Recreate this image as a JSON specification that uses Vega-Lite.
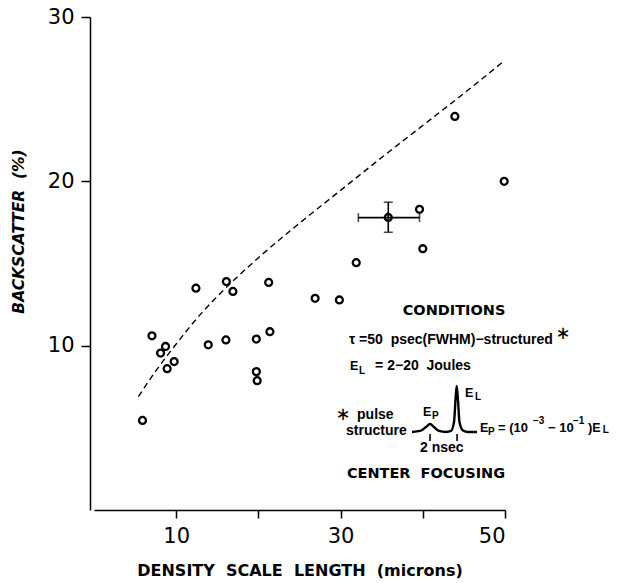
{
  "$schema": "https://vega.github.io/schema/vega-lite/v6.json",
  "autosize": {"type": "none"},
  "padding": {"left": 94, "top": 17, "right": 113, "bottom": 73},
  "width": 411,
  "height": 493,
  "background": "white",
  "config": {"view": {"stroke": null}, "font": "Liberation Sans"},
  "datasets": {
    "points": [
      {"x": 5.9, "y": 5.45}, {"x": 7.05, "y": 10.6}, {"x": 8.1, "y": 9.55}, {"x": 8.7, "y": 9.95},
      {"x": 8.9, "y": 8.6}, {"x": 9.75, "y": 9.03}, {"x": 12.4, "y": 13.5}, {"x": 13.9, "y": 10.05},
      {"x": 16.05, "y": 10.35}, {"x": 16.1, "y": 13.9}, {"x": 16.9, "y": 13.3}, {"x": 19.75, "y": 10.4},
      {"x": 19.75, "y": 8.42}, {"x": 19.85, "y": 7.87}, {"x": 21.4, "y": 10.85}, {"x": 21.25, "y": 13.85},
      {"x": 26.9, "y": 12.88}, {"x": 29.85, "y": 12.78}, {"x": 31.9, "y": 15.05}, {"x": 35.8, "y": 17.8},
      {"x": 39.6, "y": 18.3}, {"x": 40.0, "y": 15.9}, {"x": 43.9, "y": 23.95}, {"x": 49.9, "y": 20.0}
    ],
    "curve": [
      {"x": 5.4, "y": 6.9}, {"x": 7.5, "y": 8.45}, {"x": 10, "y": 10.1}, {"x": 12.5, "y": 11.65},
      {"x": 15, "y": 13.0}, {"x": 20, "y": 15.35}, {"x": 25, "y": 17.45}, {"x": 30, "y": 19.45},
      {"x": 35, "y": 21.45}, {"x": 40, "y": 23.4}, {"x": 45, "y": 25.35}, {"x": 49.7, "y": 27.25}
    ],
    "segments": [
      {"x": 32.16, "x2": 39.6, "y": 17.79, "y2": 17.79},
      {"x": 35.8, "x2": 35.8, "y": 16.9, "y2": 18.73},
      {"x": 40.88, "x2": 40.88, "y": 4.63, "y2": 4.2},
      {"x": 44.17, "x2": 44.17, "y": 4.63, "y2": 4.2}
    ],
    "vcaps": [{"x": 32.16, "y": 17.79}, {"x": 39.6, "y": 17.79}],
    "hcaps": [{"x": 35.8, "y": 16.9}, {"x": 35.8, "y": 18.73}],
    "pulse": [
      {"x": 38.69, "y": 4.75}, {"x": 39.66, "y": 4.81}, {"x": 40.39, "y": 5.05}, {"x": 40.88, "y": 5.23},
      {"x": 41.36, "y": 5.05}, {"x": 41.97, "y": 4.81}, {"x": 42.82, "y": 4.75}, {"x": 43.43, "y": 4.81},
      {"x": 43.8, "y": 5.36}, {"x": 43.98, "y": 6.7}, {"x": 44.12, "y": 7.55}, {"x": 44.28, "y": 6.7},
      {"x": 44.46, "y": 5.36}, {"x": 44.89, "y": 4.84}, {"x": 45.5, "y": 4.75}, {"x": 46.59, "y": 4.75}
    ],
    "labels": [
      {"label": "CONDITIONS", "x": 43.8, "y": 12.11, "role": "head"},
      {"label": "CENTER\u00a0\u00a0FOCUSING", "x": 40.39, "y": 2.22, "role": "head"},
      {"label": "τ =50\u00a0\u00a0psec(FWHM)−structured", "x": 31.02, "y": 10.35, "role": "body"},
      {"label": "∗", "x": 57.06, "y": 10.71, "role": "star"},
      {"label": "∗", "x": 30.29, "y": 5.81, "role": "star"},
      {"label": "pulse", "x": 32.0, "y": 5.78, "role": "body"},
      {"label": "structure", "x": 30.66, "y": 4.81, "role": "body"},
      {"label": "2 nsec", "x": 39.66, "y": 3.78, "role": "body"},
      {"label": "E", "x": 31.14, "y": 8.76, "role": "big"},
      {"label": "L", "x": 32.24, "y": 8.45, "role": "sub"},
      {"label": "= 2−20\u00a0 Joules", "x": 34.2, "y": 8.76, "role": "body"},
      {"label": "E", "x": 40.02, "y": 5.96, "role": "big"},
      {"label": "P", "x": 41.12, "y": 5.72, "role": "sub"},
      {"label": "E", "x": 45.13, "y": 7.15, "role": "big"},
      {"label": "L", "x": 46.35, "y": 6.88, "role": "sub"},
      {"label": "E", "x": 46.96, "y": 5.02, "role": "big"},
      {"label": "P", "x": 47.93, "y": 4.75, "role": "sub"},
      {"label": "= (10", "x": 49.15, "y": 4.99, "role": "small"},
      {"label": "−3", "x": 53.4, "y": 5.4, "role": "sup"},
      {"label": "− 10", "x": 55.23, "y": 4.99, "role": "small"},
      {"label": "−1", "x": 58.27, "y": 5.4, "role": "sup"},
      {"label": ")", "x": 60.1, "y": 4.99, "role": "small"},
      {"label": "E", "x": 60.6, "y": 5.02, "role": "big"},
      {"label": "L", "x": 61.9, "y": 4.87, "role": "sub"}
    ]
  },
  "encoding": {
    "x": {
      "field": "x", "type": "quantitative",
      "scale": {"domain": [0, 50], "nice": false, "zero": false},
      "axis": {
        "values": [10, 20, 30, 40, 50],
        "labelExpr": "datum.value == 20 || datum.value == 40 ? '' : datum.label",
        "title": "DENSITY\u00a0\u00a0SCALE\u00a0\u00a0LENGTH\u00a0\u00a0(microns)",
        "grid": false, "tickSize": 8, "labelPadding": 7,
        "labelFontSize": 21, "labelFont": "DejaVu Sans", "labelColor": "black",
        "titleFont": "DejaVu Sans", "titleFontWeight": "bold", "titleFontSize": 16, "titleColor": "black",
        "titleY": 60, "titleBaseline": "middle",
        "domainColor": "black", "tickColor": "black", "domainWidth": 1.5, "tickWidth": 1.5
      }
    },
    "y": {
      "field": "y", "type": "quantitative",
      "scale": {"domain": [0, 30], "nice": false, "zero": false},
      "axis": {
        "values": [10, 20, 30],
        "title": "BACKSCATTER\u00a0\u00a0(%)",
        "grid": false, "offset": 4, "tickSize": 9, "labelPadding": 7,
        "labelFontSize": 21, "labelFont": "DejaVu Sans", "labelColor": "black",
        "titleFont": "DejaVu Sans", "titleFontWeight": "bold", "titleFontStyle": "italic",
        "titleFontSize": 15.5, "titleColor": "black",
        "titleX": -72, "titleY": 214, "titleAngle": 270, "titleAlign": "center", "titleBaseline": "middle",
        "domainColor": "black", "tickColor": "black", "domainWidth": 1.5, "tickWidth": 1.5
      }
    }
  },
  "layer": [
    {
      "data": {"name": "curve"},
      "mark": {"type": "line", "color": "black", "strokeWidth": 1.4, "strokeDash": [6, 4], "interpolate": "monotone"}
    },
    {
      "data": {"name": "points"},
      "mark": {"type": "point", "shape": "circle", "filled": false, "color": "black", "strokeWidth": 2.3, "size": 48, "opacity": 1}
    },
    {
      "data": {"name": "segments"},
      "mark": {"type": "rule", "color": "black", "strokeWidth": 1.6},
      "encoding": {"x2": {"field": "x2"}, "y2": {"field": "y2"}}
    },
    {
      "data": {"name": "vcaps"},
      "mark": {"type": "tick", "orient": "vertical", "color": "black", "size": 9, "thickness": 1.6}
    },
    {
      "data": {"name": "hcaps"},
      "mark": {"type": "tick", "orient": "horizontal", "color": "black", "size": 9, "thickness": 1.6}
    },
    {
      "data": {"name": "pulse"},
      "mark": {"type": "line", "color": "black", "strokeWidth": 2.4, "interpolate": "monotone"}
    },
    {
      "data": {"name": "labels"},
      "transform": [{"filter": "datum.role == 'head'"}],
      "mark": {"type": "text", "font": "DejaVu Sans", "fontWeight": "bold", "fontSize": 14.5, "align": "center", "baseline": "middle", "color": "black"},
      "encoding": {"text": {"field": "label"}}
    },
    {
      "data": {"name": "labels"},
      "transform": [{"filter": "datum.role == 'body'"}],
      "mark": {"type": "text", "font": "Liberation Sans", "fontWeight": "bold", "fontSize": 14, "align": "left", "baseline": "middle", "color": "black"},
      "encoding": {"text": {"field": "label"}}
    },
    {
      "data": {"name": "labels"},
      "transform": [{"filter": "datum.role == 'small'"}],
      "mark": {"type": "text", "font": "Liberation Sans", "fontWeight": "bold", "fontSize": 13, "align": "left", "baseline": "middle", "color": "black"},
      "encoding": {"text": {"field": "label"}}
    },
    {
      "data": {"name": "labels"},
      "transform": [{"filter": "datum.role == 'big'"}],
      "mark": {"type": "text", "font": "Liberation Sans", "fontWeight": "bold", "fontSize": 12.5, "align": "left", "baseline": "middle", "color": "black"},
      "encoding": {"text": {"field": "label"}}
    },
    {
      "data": {"name": "labels"},
      "transform": [{"filter": "datum.role == 'sub'"}],
      "mark": {"type": "text", "font": "Liberation Sans", "fontWeight": "bold", "fontSize": 10, "align": "left", "baseline": "middle", "color": "black"},
      "encoding": {"text": {"field": "label"}}
    },
    {
      "data": {"name": "labels"},
      "transform": [{"filter": "datum.role == 'sup'"}],
      "mark": {"type": "text", "font": "Liberation Sans", "fontWeight": "bold", "fontSize": 10, "align": "left", "baseline": "middle", "color": "black"},
      "encoding": {"text": {"field": "label"}}
    },
    {
      "data": {"name": "labels"},
      "transform": [{"filter": "datum.role == 'star'"}],
      "mark": {"type": "text", "font": "DejaVu Sans", "fontSize": 18, "align": "center", "baseline": "middle", "color": "black"},
      "encoding": {"text": {"field": "label"}}
    }
  ]
}
